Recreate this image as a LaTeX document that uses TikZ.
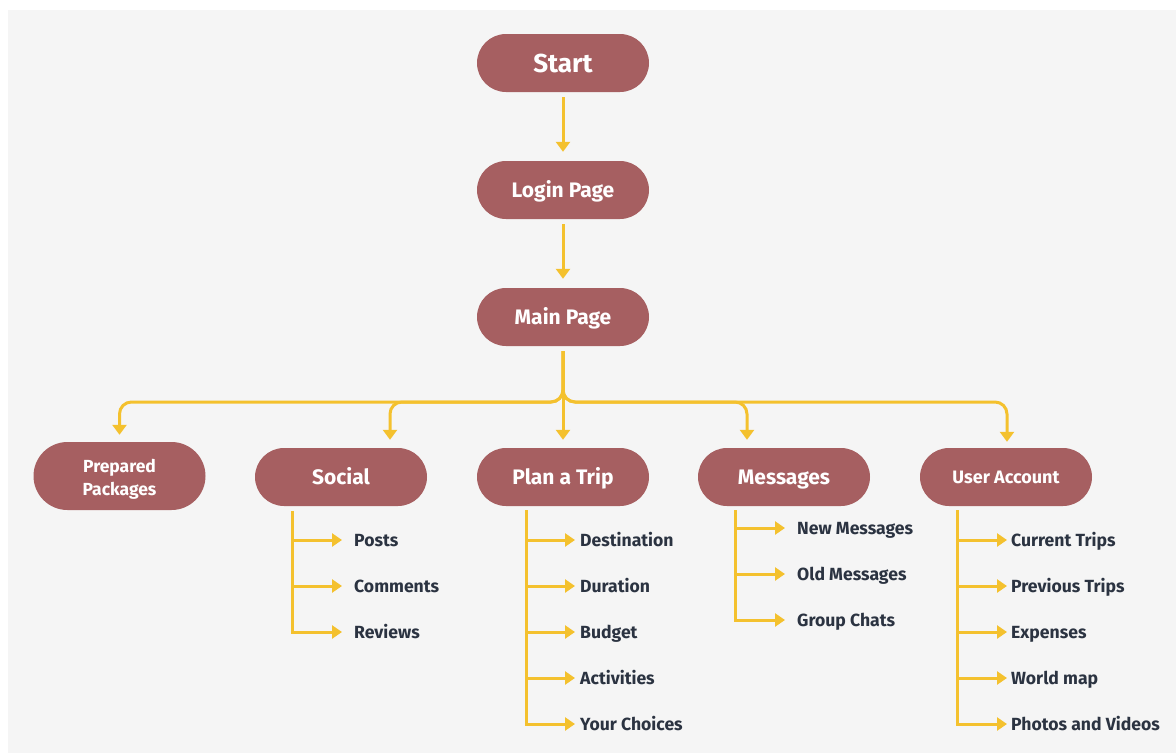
\documentclass[tikz,border=0pt]{standalone}
\usepackage{fontspec}
\setmainfont{Fira Sans}
\usetikzlibrary{arrows.meta}
\definecolor{pill}{HTML}{A65F61}
\definecolor{gold}{HTML}{F4C12E}
\definecolor{ink}{HTML}{2B3341}
\definecolor{bgc}{HTML}{F5F5F5}
\begin{document}
\begin{tikzpicture}[x=1pt,y=-1pt,
  pillnode/.style={fill=pill, text=white, font=\bfseries\fontsize{21}{24}\selectfont,
    minimum width=172pt, minimum height=58pt, rounded corners=29pt, inner sep=0pt, align=center,
    text height=14.6pt, text depth=0pt},
  item/.style={text=ink, font=\bfseries\fontsize{17.6}{20}\selectfont, anchor=west,
    inner sep=0pt, text height=12.2pt, text depth=0pt},
  link/.style={draw=gold, line width=3pt, -{Triangle[length=10pt,width=14pt]}, rounded corners=12pt},
  sublink/.style={draw=gold, line width=3pt, -{Triangle[length=10pt,width=13pt]}},
]
\useasboundingbox (0,0) rectangle (1176,753);
\fill[bgc] (8,10) rectangle (1176,753);

% main nodes
\node[pillnode, font=\bfseries\fontsize{26}{30}\selectfont, text height=18pt] (start) at (563,63) {Start};
\node[pillnode] (login) at (563,190) {Login Page};
\node[pillnode] (main) at (563,317) {Main Page};
\node[pillnode, minimum height=68pt, rounded corners=34pt, font=\bfseries\fontsize{17.5}{23}\selectfont,
  text height={}, text depth={}] (prep) at (119.5,476) {\rule{0pt}{19pt}Prepared\\Packages};
\node[pillnode] (social) at (341,477) {Social};
\node[pillnode] (plan) at (563,477) {Plan a Trip};
\node[pillnode] (msg) at (784,477) {Messages};
\node[pillnode, font=\bfseries\fontsize{18}{22}\selectfont, text height=12.5pt] (user) at (1006,477) {User Account};

\coordinate (bus) at (563,402);

\draw[link, shorten <=5pt, shorten >=9pt] (start) -- (login);
\draw[link, shorten <=5pt, shorten >=9pt] (login) -- (main);
\draw[link, shorten >=7pt] ([yshift=-5pt]main.south) -- (bus) -| (prep.north);
\draw[link, shorten >=8pt] ([yshift=-5pt]main.south) -- (bus) -| ([xshift=49pt]social.north);
\draw[link, shorten >=8pt] ([yshift=-5pt]main.south) -- (plan.north);
\draw[link, shorten >=8pt] ([yshift=-5pt]main.south) -- (bus) -| ([xshift=-37pt]msg.north);
\draw[link, shorten >=6pt] ([yshift=-5pt]main.south) -- (bus) -| ([xshift=1pt]user.north);

% Social items
\coordinate (s0) at (292,511);
\node[item] (posts) at (354,540) {Posts};
\node[item] (comments) at (354,586) {Comments};
\node[item] (reviews) at (354,632) {Reviews};
\foreach \n in {posts,comments,reviews}
  \draw[sublink] (s0) |- ([xshift=-12pt]\n.west);

% Plan a Trip items
\coordinate (p0) at (526,510);
\node[item] (dest) at (580,540) {Destination};
\node[item] (dur) at (580,586) {Duration};
\node[item] (budget) at (580,632) {Budget};
\node[item] (act) at (580,678) {Activities};
\node[item] (choices) at (580,724) {Your Choices};
\foreach \n in {dest,dur,budget,act,choices}
  \draw[sublink] (p0) |- ([xshift=-5pt]\n.west);

% Messages items
\coordinate (m0) at (735,510);
\node[item] (newm) at (797,528) {New Messages};
\node[item] (oldm) at (797,574) {Old Messages};
\node[item] (group) at (797,620) {Group Chats};
\foreach \n in {newm,oldm,group}
  \draw[sublink] (m0) |- ([xshift=-12pt]\n.west);

% User Account items
\coordinate (u0) at (957,510);
\node[item] (cur) at (1011,540) {Current Trips};
\node[item] (prev) at (1011,586) {Previous Trips};
\node[item] (exp) at (1011,632) {Expenses};
\node[item] (world) at (1011,678) {World map};
\node[item] (photos) at (1011,724) {Photos and Videos};
\foreach \n in {cur,prev,exp,world,photos}
  \draw[sublink] (u0) |- ([xshift=-4pt]\n.west);
\end{tikzpicture}
\end{document}
